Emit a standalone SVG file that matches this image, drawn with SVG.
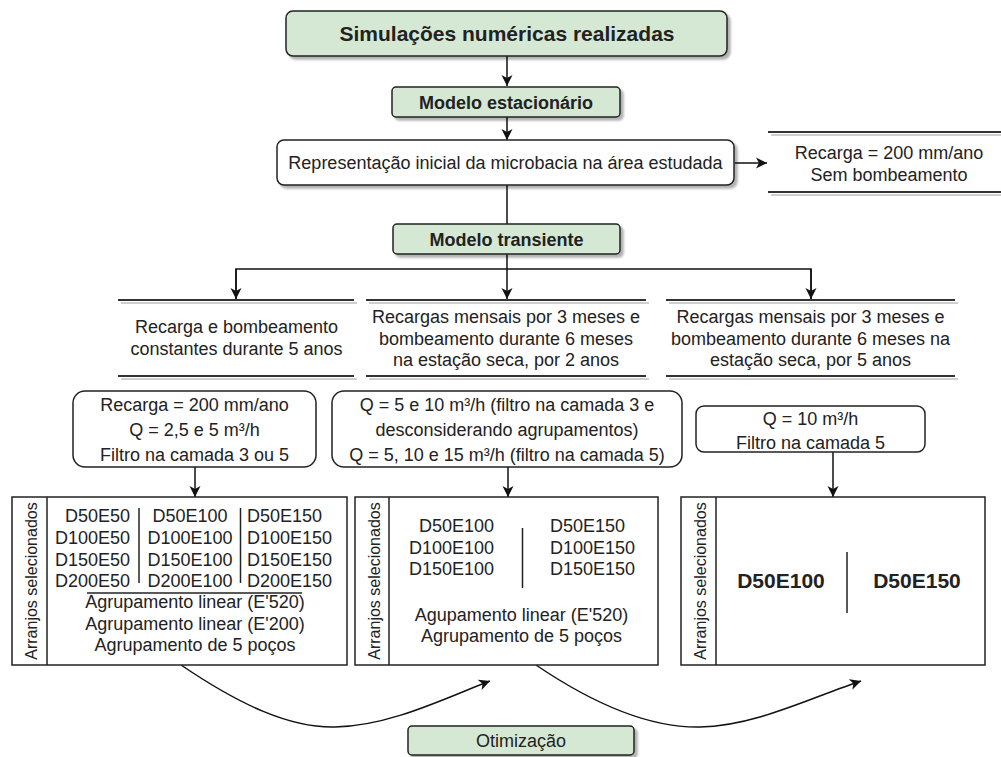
<svg xmlns="http://www.w3.org/2000/svg" width="1001" height="757" viewBox="0 0 1001 757">
  <defs>
    <style>
      text { font-family: "Liberation Sans", Arial, sans-serif; fill: #222; }
      .t18 { font-size: 18px; }
      .b18 { font-size: 18px; font-weight: bold; }
      .b21 { font-size: 21px; font-weight: bold; }
      .lbl { font-size: 16px; }
      .mid { text-anchor: middle; }
      .end { text-anchor: end; }
      .green { fill: #d5e8d4; stroke: #222; stroke-width: 1.5; }
      .white { fill: #fff; stroke: #222; stroke-width: 1.5; }
      .box { fill: #fff; stroke: #222; stroke-width: 1.5; }
      .sep { stroke: #222; stroke-width: 1.5; fill: none; }
      .edge { stroke: #111; stroke-width: 1.5; fill: none; }
      .rule { stroke: #333; stroke-width: 2; }
      .rule-sh { stroke: #cfcfcf; stroke-width: 2; }
    </style>
    <marker id="arrow" markerUnits="userSpaceOnUse" markerWidth="12" markerHeight="12" refX="11" refY="6" orient="auto">
      <path d="M0,0.5 L11,6 L0,11.5 L3,6 Z" fill="#111"/>
    </marker>
    <filter id="shadow" x="-5%" y="-10%" width="115%" height="130%">
      <feDropShadow dx="3" dy="3" stdDeviation="0.8" flood-color="#000" flood-opacity="0.3"/>
    </filter>
  </defs>

  <!-- connectors -->
  <g id="connectors">
    <line class="edge" x1="507" y1="56" x2="507" y2="86" marker-end="url(#arrow)"/>
    <line class="edge" x1="507" y1="117" x2="507" y2="140" marker-end="url(#arrow)"/>
    <line class="edge" x1="735" y1="163" x2="767" y2="163" marker-end="url(#arrow)"/>
    <line class="edge" x1="507" y1="185" x2="507" y2="224"/>
    <polyline class="edge" points="507,254 507,269"/>
    <polyline class="edge" points="236,300 236,269 811,269 811,300" marker-start="none"/>
    <line class="edge" x1="236" y1="269" x2="236" y2="299" marker-end="url(#arrow)"/>
    <line class="edge" x1="507" y1="269" x2="507" y2="299" marker-end="url(#arrow)"/>
    <line class="edge" x1="811" y1="269" x2="811" y2="299" marker-end="url(#arrow)"/>
    <line class="edge" x1="195" y1="467" x2="195" y2="497" marker-end="url(#arrow)"/>
    <line class="edge" x1="508" y1="467" x2="508" y2="497" marker-end="url(#arrow)"/>
    <line class="edge" x1="833" y1="452" x2="833" y2="497" marker-end="url(#arrow)"/>
    <path class="edge" d="M181,665 C240,705 290,728 335,727 C390,726 445,698 490,681" marker-end="url(#arrow)"/>
    <path class="edge" d="M536,665 C595,705 650,728 700,727 C755,726 810,698 861,681" marker-end="url(#arrow)"/>
  </g>

  <!-- title -->
  <g id="title">
    <rect class="green" x="286" y="11" width="441" height="45" rx="7" filter="url(#shadow)"/>
    <text class="b21 mid" x="507" y="41">Simulações numéricas realizadas</text>
  </g>

  <g id="stationary">
    <rect class="green" x="392" y="87" width="228" height="30" rx="4" filter="url(#shadow)"/>
    <text class="b18 mid" x="506" y="108.5">Modelo estacionário</text>
  </g>

  <g id="initial">
    <rect class="white" x="277" y="140" width="457" height="45" rx="7" filter="url(#shadow)"/>
    <text class="t18 mid" x="505.5" y="169">Representação inicial da microbacia na área estudada</text>
  </g>

  <g id="steady-conditions">
    <line class="rule-sh" x1="771" y1="135" x2="1001" y2="135"/>
    <line class="rule-sh" x1="771" y1="195" x2="1001" y2="195"/>
    <line class="rule" x1="768" y1="132" x2="1001" y2="132"/>
    <line class="rule" x1="768" y1="192" x2="1001" y2="192"/>
    <text class="t18 mid" x="889" y="158.5">Recarga = 200 mm/ano</text>
    <text class="t18 mid" x="889" y="180.5">Sem bombeamento</text>
  </g>

  <g id="transient">
    <rect class="green" x="393" y="224" width="227" height="30" rx="4" filter="url(#shadow)"/>
    <text class="b18 mid" x="506.5" y="245.5">Modelo transiente</text>
  </g>

  <!-- scenario headers -->
  <g id="scenario-1">
    <line class="rule-sh" x1="121" y1="303" x2="357" y2="303"/>
    <line class="rule-sh" x1="121" y1="379" x2="357" y2="379"/>
    <line class="rule" x1="118" y1="300" x2="354" y2="300"/>
    <line class="rule" x1="118" y1="376" x2="354" y2="376"/>
    <text class="t18 mid" x="236.5" y="333">Recarga e bombeamento</text>
    <text class="t18 mid" x="236.5" y="354.5">constantes durante 5 anos</text>
  </g>

  <g id="scenario-2">
    <line class="rule-sh" x1="369" y1="303" x2="649" y2="303"/>
    <line class="rule-sh" x1="369" y1="379" x2="649" y2="379"/>
    <line class="rule" x1="366" y1="300" x2="646" y2="300"/>
    <line class="rule" x1="366" y1="376" x2="646" y2="376"/>
    <text class="t18 mid" x="506" y="323">Recargas mensais por 3 meses e</text>
    <text class="t18 mid" x="506" y="344.5">bombeamento durante 6 meses</text>
    <text class="t18 mid" x="506" y="366">na estação seca, por 2 anos</text>
  </g>

  <g id="scenario-3">
    <line class="rule-sh" x1="669" y1="303" x2="958" y2="303"/>
    <line class="rule-sh" x1="669" y1="379" x2="958" y2="379"/>
    <line class="rule" x1="666" y1="300" x2="955" y2="300"/>
    <line class="rule" x1="666" y1="376" x2="955" y2="376"/>
    <text class="t18 mid" x="810.5" y="323">Recargas mensais por 3 meses e</text>
    <text class="t18 mid" x="810.5" y="344.5">bombeamento durante 6 meses na</text>
    <text class="t18 mid" x="810.5" y="366">estação seca, por 5 anos</text>
  </g>

  <!-- parameter boxes -->
  <g id="params-1">
    <rect class="white" x="73" y="391" width="243" height="76" rx="12"/>
    <text class="t18 mid" x="194.5" y="411">Recarga = 200 mm/ano</text>
    <text class="t18 mid" x="194.5" y="436">Q = 2,5 e 5 m³/h</text>
    <text class="t18 mid" x="194.5" y="461">Filtro na camada 3 ou 5</text>
  </g>

  <g id="params-2">
    <rect class="white" x="332" y="391" width="350" height="76" rx="12"/>
    <text class="t18 mid" x="507" y="411">Q = 5 e 10 m³/h (filtro na camada 3 e</text>
    <text class="t18 mid" x="507" y="435.5">desconsiderando agrupamentos)</text>
    <text class="t18 mid" x="507" y="460.5">Q = 5, 10 e 15 m³/h (filtro na camada 5)</text>
  </g>

  <g id="params-3">
    <rect class="white" x="696" y="406" width="229" height="46" rx="8"/>
    <text class="t18 mid" x="810.5" y="424.5">Q = 10 m³/h</text>
    <text class="t18 mid" x="810.5" y="449">Filtro na camada 5</text>
  </g>

  <!-- selected arrangements -->
  <g id="arrangements-1">
    <rect class="box" x="12" y="497" width="335" height="168"/>
    <line class="sep" x1="47" y1="497" x2="47" y2="665"/>
    <text class="lbl mid" transform="translate(36.5,581) rotate(-90)">Arranjos selecionados</text>
    <text class="t18 end" x="130" y="522">D50E50</text>
    <text class="t18 end" x="130" y="544">D100E50</text>
    <text class="t18 end" x="130" y="565.5">D150E50</text>
    <text class="t18 end" x="130" y="587">D200E50</text>
    <text class="t18 mid" x="190" y="522">D50E100</text>
    <text class="t18 mid" x="190" y="544">D100E100</text>
    <text class="t18 mid" x="190" y="565.5">D150E100</text>
    <text class="t18 mid" x="190" y="587">D200E100</text>
    <text class="t18" x="247" y="522">D50E150</text>
    <text class="t18" x="247" y="544">D100E150</text>
    <text class="t18" x="247" y="565.5">D150E150</text>
    <text class="t18" x="247" y="587">D200E150</text>
    <line class="sep" x1="139" y1="508" x2="139" y2="583"/>
    <line class="sep" x1="240.5" y1="508" x2="240.5" y2="583"/>
    <line class="sep" x1="87" y1="593" x2="302" y2="593"/>
    <text class="t18 mid" x="195" y="608">Agrupamento linear (E'520)</text>
    <text class="t18 mid" x="195" y="630">Agrupamento linear (E'200)</text>
    <text class="t18 mid" x="195" y="651">Agrupamento de 5 poços</text>
  </g>

  <g id="arrangements-2">
    <rect class="box" x="355" y="497" width="303" height="168"/>
    <line class="sep" x1="389" y1="497" x2="389" y2="665"/>
    <text class="lbl mid" transform="translate(379.5,581) rotate(-90)">Arranjos selecionados</text>
    <text class="t18 end" x="494" y="532">D50E100</text>
    <text class="t18 end" x="494" y="553.5">D100E100</text>
    <text class="t18 end" x="494" y="575">D150E100</text>
    <text class="t18" x="550" y="532">D50E150</text>
    <text class="t18" x="550" y="553.5">D100E150</text>
    <text class="t18" x="550" y="575">D150E150</text>
    <line class="sep" x1="522.5" y1="528" x2="522.5" y2="588"/>
    <text class="t18 mid" x="521.5" y="621">Agupamento linear (E'520)</text>
    <text class="t18 mid" x="521.5" y="642">Agrupamento de 5 poços</text>
  </g>

  <g id="arrangements-3">
    <rect class="box" x="681" y="497" width="304" height="168"/>
    <line class="sep" x1="716" y1="497" x2="716" y2="665"/>
    <text class="lbl mid" transform="translate(705.5,581) rotate(-90)">Arranjos selecionados</text>
    <text class="b21 mid" x="781" y="588">D50E100</text>
    <text class="b21 mid" x="917" y="588">D50E150</text>
    <line class="sep" x1="847" y1="552" x2="847" y2="613"/>
  </g>

  <g id="optimization">
    <rect class="green" x="408" y="726" width="226" height="29" rx="4" filter="url(#shadow)"/>
    <text class="t18 mid" x="521" y="747">Otimização</text>
  </g>
</svg>
